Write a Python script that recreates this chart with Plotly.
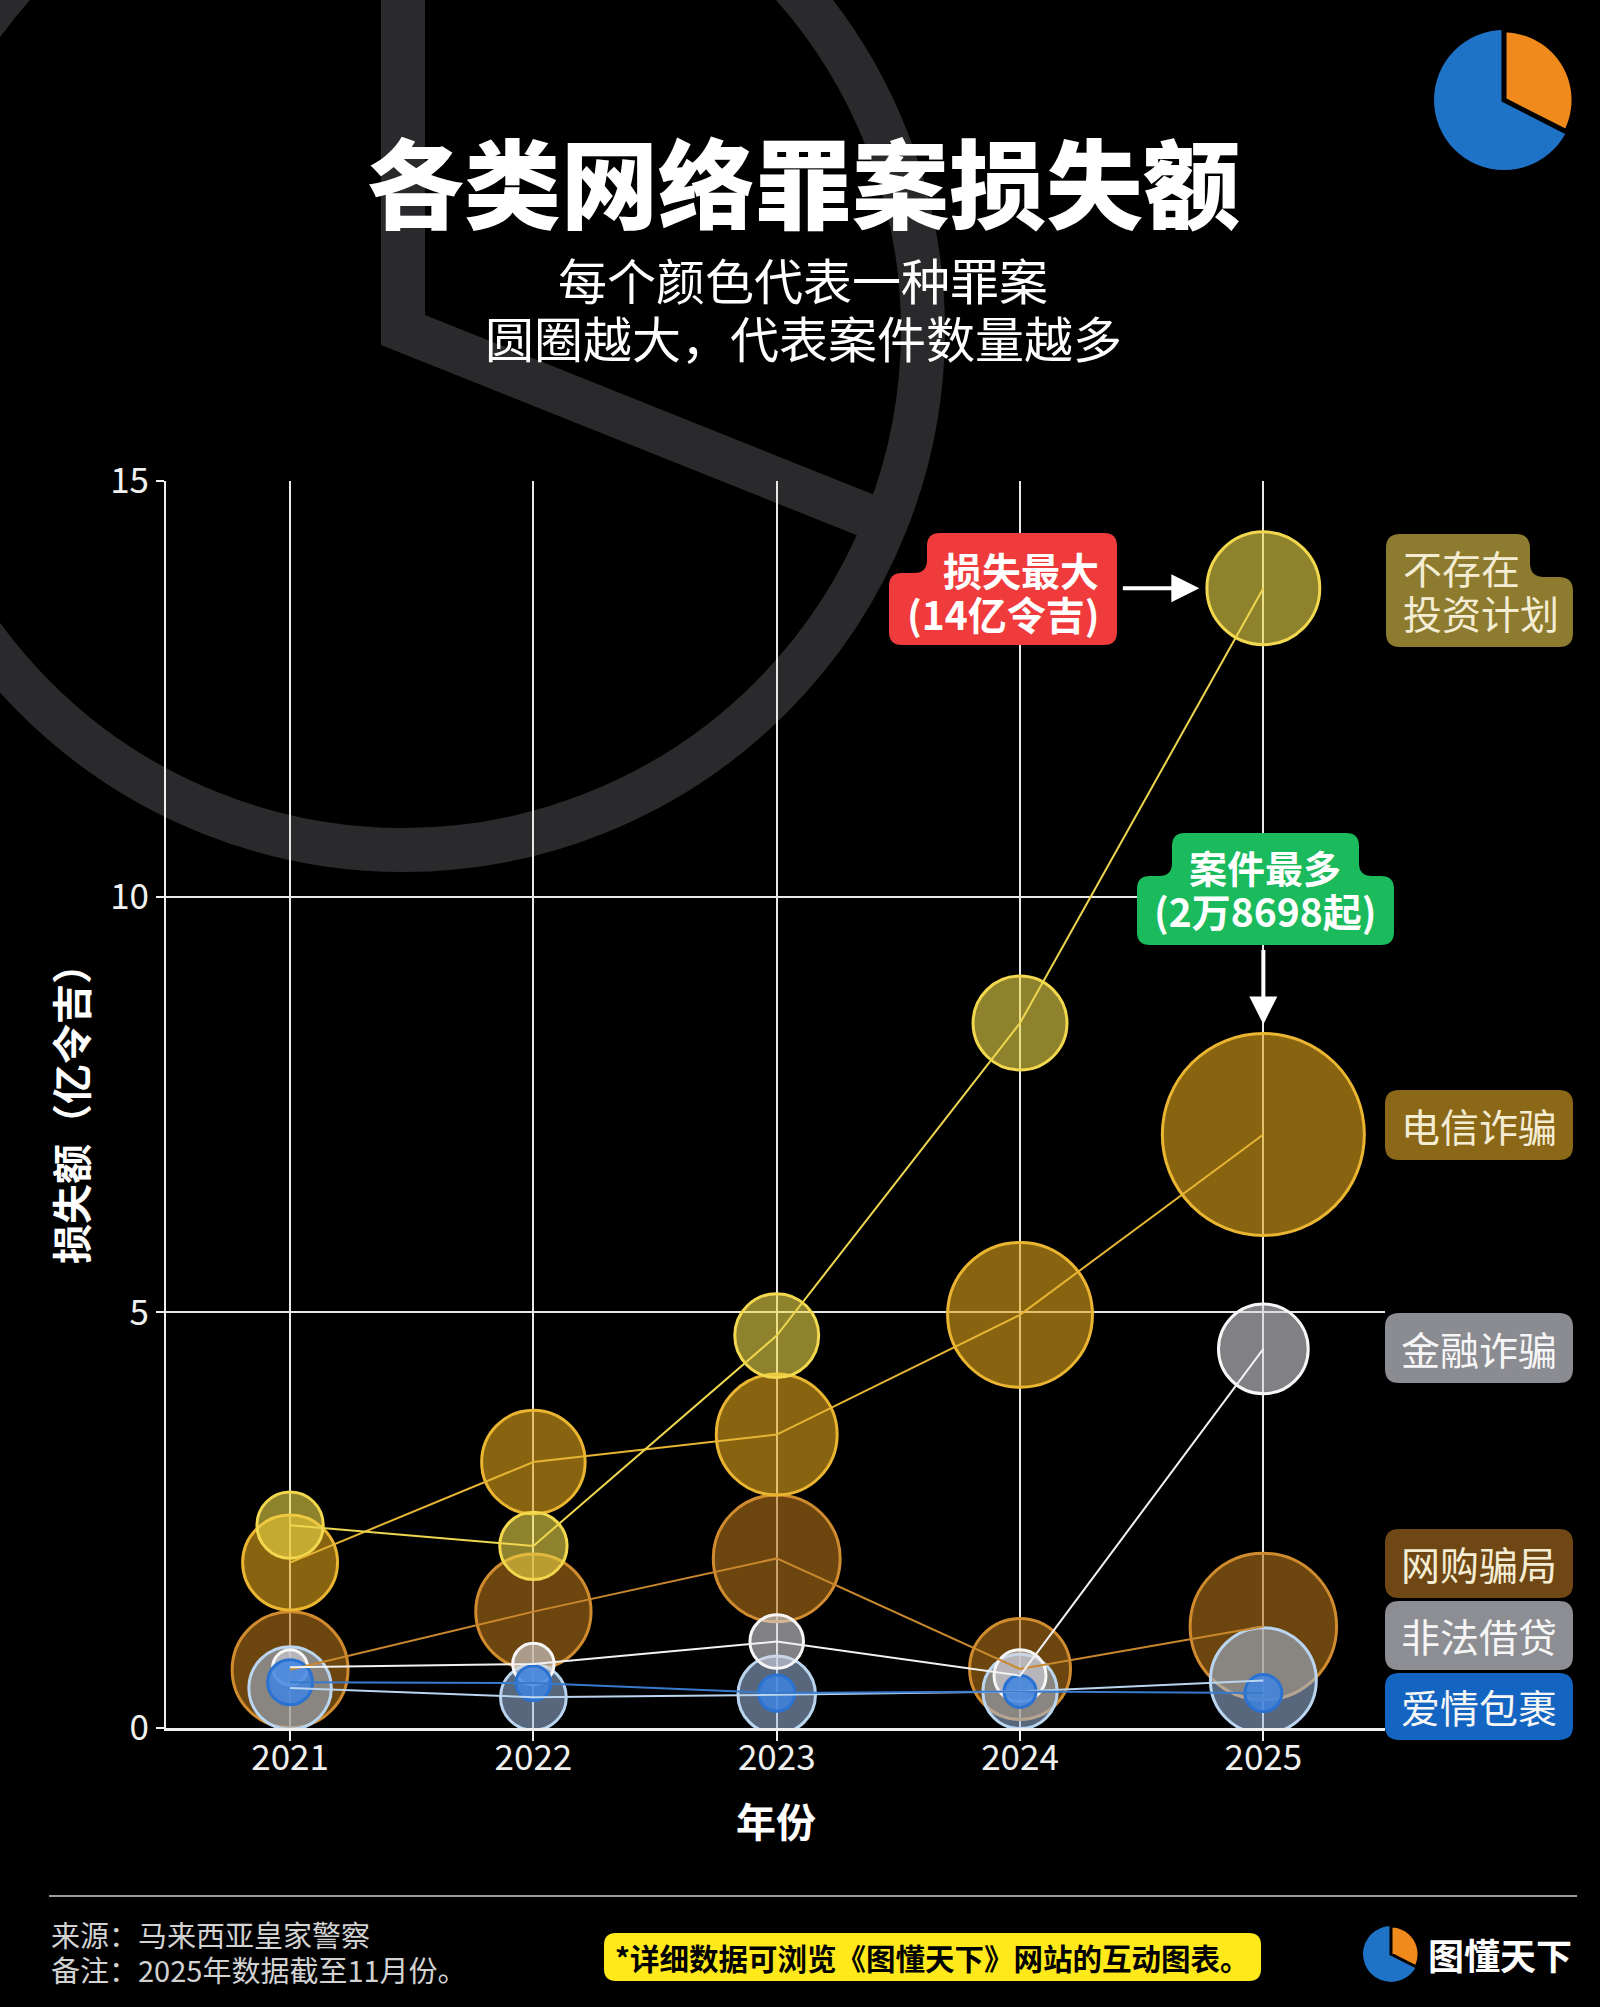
import math
import plotly.graph_objects as go

# ---------------- data ----------------
years = [2021, 2022, 2023, 2024, 2025]
series_names = ["网购骗局", "电信诈骗", "不存在投资计划", "非法借贷", "金融诈骗", "爱情包裹"]

# loss (亿令吉)
loss_shopping = [0.70, 1.40, 2.04, 0.71, 1.22]
loss_telecom = [1.99, 3.20, 3.53, 4.97, 7.14]
loss_invest = [2.44, 2.19, 4.72, 8.48, 13.71]
loss_loan = [0.48, 0.37, 0.40, 0.44, 0.57]
loss_finance = [0.73, 0.77, 1.04, 0.63, 4.56]
loss_parcel = [0.55, 0.54, 0.42, 0.44, 0.42]

# number of cases (bubble area)
cases_shopping = [9445, 9347, 11322, 7160, 15086]
cases_telecom = [6335, 7534, 10277, 14759, 28698]
cases_invest = [3095, 3189, 4953, 6203, 8963]
cases_loan = [4789, 3039, 4227, 3886, 7887]
cases_finance = [860, 1203, 2017, 1898, 5660]
cases_parcel = [1422, 860, 930, 719, 961]

y_ticks = [0, 5, 10, 15]
x_tick_labels = ["2021", "2022", "2023", "2024", "2025"]

title_text = "各类网络罪案损失额"
subtitle_lines = ["每个颜色代表一种罪案", "圆圈越大，代表案件数量越多"]
y_title = "损失额（亿令吉）"
x_title = "年份"
source_text = "来源：马来西亚皇家警察"
note_text = "备注：2025年数据截至11月份。"
banner_text = "*详细数据可浏览《图懂天下》网站的互动图表。"
brand_text = "图懂天下"
callout_loss = ["损失最大", "(14亿令吉)"]
callout_cases = ["案件最多", "(2万8698起)"]

# ---------------- layout constants ----------------
W, H = 1600, 2007
PL, PR, PT, PB = 166, 1385, 481, 1728
FONT = "Noto Sans CJK SC"


def px2x(px):
    return (px - PL) / (PR - PL)


def py2y(py):
    return (PB - py) / (PB - PT)


def P(pt):
    return f"{px2x(pt[0]):.5f},{py2y(pt[1]):.5f}"


def rounded_path(pts, r):
    n = len(pts)

    def towards(a, b, d):
        dx, dy = b[0] - a[0], b[1] - a[1]
        L = math.hypot(dx, dy)
        d = min(d, L / 2)
        return (a[0] + dx / L * d, a[1] + dy / L * d)

    parts = []
    for i in range(n):
        p0, p1, p2 = pts[i - 1], pts[i], pts[(i + 1) % n]
        a = towards(p1, p0, r)
        b = towards(p1, p2, r)
        parts.append((a, p1, b))
    s = f"M {P(parts[0][0])} Q {P(parts[0][1])} {P(parts[0][2])}"
    for a, c, b in parts[1:]:
        s += f" L {P(a)} Q {P(c)} {P(b)}"
    s += " Z"
    return s


def rect_pts(x0, y0, x1, y1):
    return [(x0, y0), (x1, y0), (x1, y1), (x0, y1)]


def pie_logo(cx, cy, r, sep):
    shapes = []
    shapes.append(dict(type="circle", xref="paper", yref="paper",
                       x0=px2x(cx - r), x1=px2x(cx + r), y0=py2y(cy + r), y1=py2y(cy - r),
                       fillcolor="#1f73c6", line=dict(width=0), layer="above"))
    pts = [(cx, cy)]
    for k in range(0, 41):
        th = math.radians(117 * k / 40)
        pts.append((cx + r * math.sin(th), cy - r * math.cos(th)))
    path = "M " + " L ".join(P(p) for p in pts) + " Z"
    shapes.append(dict(type="path", xref="paper", yref="paper", path=path,
                       fillcolor="#f18a1d", line=dict(color="#000000", width=sep), layer="above"))
    return shapes


shapes = []
# background decoration (outlined pie)
DC = (403, 330)
DR = 520
deco_col = "#2a2a2c"
shapes.append(dict(type="circle", xref="paper", yref="paper",
                   x0=px2x(DC[0] - DR), x1=px2x(DC[0] + DR), y0=py2y(DC[1] + DR), y1=py2y(DC[1] - DR),
                   line=dict(color=deco_col, width=44), layer="below"))
ang = math.radians(21.8)
shapes.append(dict(type="path", xref="paper", yref="paper",
                   path=f"M {P((DC[0], -80))} L {P(DC)} L {P((DC[0] + DR * math.cos(ang), DC[1] + DR * math.sin(ang)))}",
                   line=dict(color=deco_col, width=44), layer="below"))

# logos
shapes += pie_logo(1504, 100, 70, 5)
shapes += pie_logo(1391, 1954, 28, 3)

# footer rule
shapes.append(dict(type="line", xref="paper", yref="paper", x0=px2x(49), x1=px2x(1577),
                   y0=py2y(1896), y1=py2y(1896), line=dict(color="#9c9c9c", width=2), layer="above"))
# yellow banner
shapes.append(dict(type="path", xref="paper", yref="paper",
                   path=rounded_path(rect_pts(604, 1933, 1261, 1981), 12),
                   fillcolor="#ffe91a", line=dict(width=0), layer="above"))

# callout boxes
red_pts = [(927, 533), (1117, 533), (1117, 645), (889, 645), (889, 573), (927, 573)]
shapes.append(dict(type="path", xref="paper", yref="paper", path=rounded_path(red_pts, 13),
                   fillcolor="#ef3b3b", line=dict(width=0), layer="above"))
green_pts = [(1172, 833), (1359, 833), (1359, 876), (1394, 876), (1394, 945),
             (1137, 945), (1137, 876), (1172, 876)]
shapes.append(dict(type="path", xref="paper", yref="paper", path=rounded_path(green_pts, 13),
                   fillcolor="#1bba5d", line=dict(width=0), layer="above"))

# right-side labels
label_specs = [
    ("不存在投资计划", [(1386, 534), (1530, 534), (1530, 577), (1573, 577), (1573, 647), (1386, 647)], "#8d7b2f"),
    ("电信诈骗", rect_pts(1385, 1090, 1573, 1160), "#8b6818"),
    ("金融诈骗", rect_pts(1385, 1313, 1573, 1383), "#8b8c92"),
    ("网购骗局", rect_pts(1385, 1529, 1573, 1598), "#6f4714"),
    ("非法借贷", rect_pts(1385, 1601, 1573, 1670), "#8d8e93"),
    ("爱情包裹", rect_pts(1385, 1673, 1573, 1740), "#1465c1"),
]
for name, pts, col in label_specs:
    shapes.append(dict(type="path", xref="paper", yref="paper", path=rounded_path(pts, 14),
                       fillcolor=col, line=dict(width=0), layer="above"))

# ---------------- traces ----------------
series = {
    "网购骗局": (loss_shopping, cases_shopping, "rgba(182,115,24,0.6)", "#d08b2f", "#c9882e"),
    "电信诈骗": (loss_telecom, cases_telecom, "rgba(226,166,26,0.6)", "#eab531", "#e6b534"),
    "不存在投资计划": (loss_invest, cases_invest, "rgba(238,216,74,0.6)", "#f2d84e", "#eed64e"),
    "非法借贷": (loss_loan, cases_loan, "rgba(160,188,226,0.55)", "#bad5f0", "#bad5f0"),
    "金融诈骗": (loss_finance, cases_finance, "rgba(214,214,222,0.6)", "#f6f6f6", "#f2f2f2"),
    "爱情包裹": (loss_parcel, cases_parcel, "rgba(64,132,224,0.85)", "#2a72d2", "#3a7acd"),
}
max_cases = max(max(v[1]) for v in series.values())
max_diam = 202
sizeref = 2.0 * max_cases / (max_diam ** 2)

fig = go.Figure()
for name in series_names:
    loss, cases, fill, edge, _ = series[name]
    fig.add_trace(go.Scatter(
        x=years, y=loss, mode="markers", name=name,
        marker=dict(size=cases, sizemode="area", sizeref=sizeref, color=fill, opacity=1,
                    line=dict(color=edge, width=3)),
        hoverinfo="skip", showlegend=False))
for name in series_names:
    loss, cases, fill, edge, lcol = series[name]
    fig.add_trace(go.Scatter(
        x=years, y=loss, mode="lines", name=name,
        line=dict(color=lcol, width=2), hoverinfo="skip", showlegend=False))

# ---------------- annotations ----------------
ann = []


def text_ann(txt, x, y, size, color="#ffffff", weight="normal", xanchor="center", angle=0):
    return dict(text=txt, xref="paper", yref="paper", x=px2x(x), y=py2y(y), showarrow=False,
                xanchor=xanchor, yanchor="middle", textangle=angle,
                font=dict(family=FONT, size=size, color=color, weight=weight))


ann.append(text_ann(title_text, 803, 179, 97, weight=900))
ann.append(text_ann(subtitle_lines[0], 803, 279, 49))
ann.append(text_ann(subtitle_lines[1], 803, 336, 49))
ann.append(text_ann(y_title, 70, 1104, 40, weight="bold", angle=-90))
ann.append(text_ann(x_title, 776, 1820, 40, weight="bold"))

# callout text
ann.append(text_ann(callout_loss[0], 1021, 569, 39, weight="bold"))
ann.append(text_ann(callout_loss[1], 1003, 613, 39, weight="bold"))
ann.append(text_ann(callout_cases[0], 1265, 866, 38, weight="bold"))
ann.append(text_ann(callout_cases[1], 1265, 910, 39, weight="bold"))

# arrows
ann.append(dict(x=years[4], y=loss_invest[4], xref="x", yref="y", xshift=-64, text="",
                showarrow=True, ax=-78, ay=0, arrowhead=2, arrowsize=1.4, arrowwidth=4,
                arrowcolor="#ffffff"))
ann.append(dict(x=years[4], y=loss_telecom[4], xref="x", yref="y", yshift=110, text="",
                showarrow=True, ax=0, ay=-76, arrowhead=2, arrowsize=1.4, arrowwidth=4,
                arrowcolor="#ffffff"))

# right labels text
cream = "#f4edd4"
ann.append(text_ann("不存在", 1401, 567, 39, color=cream, xanchor="left"))
ann.append(text_ann("投资计划", 1401, 612, 39, color=cream, xanchor="left"))
ann.append(text_ann("电信诈骗", 1479, 1125, 39, color=cream))
ann.append(text_ann("金融诈骗", 1479, 1348, 39, color="#f6f6f6"))
ann.append(text_ann("网购骗局", 1479, 1563, 39, color=cream))
ann.append(text_ann("非法借贷", 1479, 1635, 39, color="#f6f6f6"))
ann.append(text_ann("爱情包裹", 1479, 1706, 39, color="#f6f6f6"))

# footer
ann.append(text_ann(source_text, 49, 1934, 29, color="#d2d2d2", xanchor="left"))
ann.append(text_ann(note_text, 49, 1969, 29, color="#d2d2d2", xanchor="left"))
ann.append(text_ann(banner_text, 932, 1957, 29.5, color="#000000", weight="bold"))
ann.append(text_ann(brand_text, 1500, 1954, 36, weight="bold"))

fig.update_layout(
    width=W, height=H,
    margin=dict(l=PL, r=W - PR, t=PT, b=H - PB, pad=0),
    paper_bgcolor="#000000", plot_bgcolor="rgba(0,0,0,0)",
    shapes=shapes, annotations=ann, hovermode=False, showlegend=False,
    font=dict(family=FONT, color="#ffffff"),
    xaxis=dict(range=[2020.49, 2025.5], tickvals=years, ticktext=x_tick_labels,
               showgrid=True, gridcolor="#e8e8e8", gridwidth=2, zeroline=False,
               showline=True, linecolor="#f0f0f0", linewidth=3,
               ticks="outside", ticklen=10, tickwidth=2, tickcolor="#f0f0f0",
               ticklabelstandoff=-13,
               tickfont=dict(family=FONT, size=35, color="#f0f0f0"), fixedrange=True),
    yaxis=dict(range=[0, 15], tickvals=y_ticks, showgrid=True, gridcolor="#e8e8e8", gridwidth=2,
               zeroline=False, showline=True, linecolor="#f0f0f0", linewidth=2,
               ticks="outside", ticklen=8, tickwidth=2, tickcolor="#f0f0f0",
               tickfont=dict(family=FONT, size=35, color="#f0f0f0"), fixedrange=True),
)

fig.write_html("out.html")
